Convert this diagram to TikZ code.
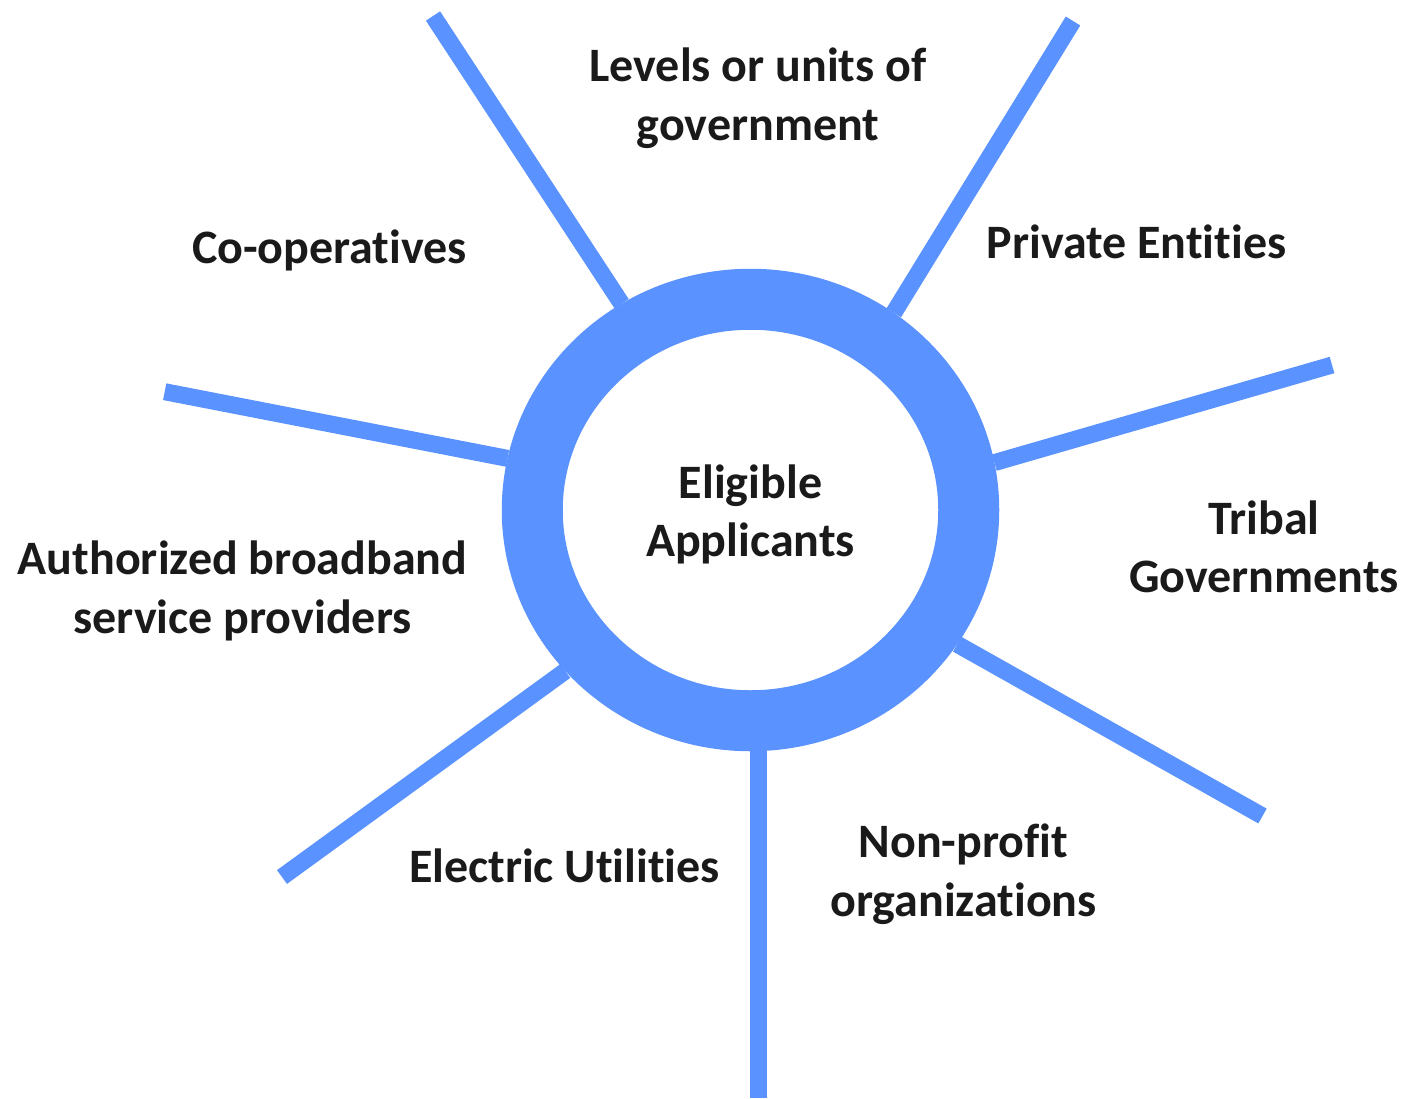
\documentclass[tikz,border=0pt]{standalone}
\usepackage{fontspec}
\setmainfont{Carlito}[Ligatures={NoCommon,NoContextual}]
\usetikzlibrary{shapes.geometric}
\definecolor{rayblue}{HTML}{5A92FF}
\definecolor{labelink}{HTML}{1A1A1A}

\begin{document}
\begin{tikzpicture}[x=0.5pt,y=-0.5pt,
  ray/.style={draw=rayblue,line width=8.5pt},
  lbl/.style={font=\fontsize{24}{29.3}\selectfont\bfseries,
    text=labelink,align=center,inner sep=0pt}]
\useasboundingbox (0,0) rectangle (1407,1098);
%\draw (0,0) rectangle (1407,1098);
\node[ellipse,draw=rayblue,line width=30.5pt,fill=white,
  minimum width=218.25pt,minimum height=210.75pt,
  lbl] (hub) at (750.5,510) {\\[-8pt]Eligible\\Applicants};
\coordinate (e1) at (433,16);
\coordinate (e2) at (1073,21);
\coordinate (e3) at (1332,365);
\coordinate (e4) at (1262.5,816);
\coordinate (e5) at (758,1098);
\coordinate (e6) at (282,877);
\coordinate (e7) at (164.7,391.7);
\draw[ray] (hub.122.7) -- (e1);
\draw[ray] (hub.54.35) -- (e2);
\draw[ray] (hub.11.3) -- (e3);
\draw[ray] (hub.-33.2) -- (e4);
\draw[ray] (hub.south -| e5) -- (e5);
\draw[ray] (hub.221.5) -- (e6);
\draw[ray] (hub.168.7) -- (e7);
\node[lbl] (gov) at (758,98) {Levels or units of\\government};
\node[lbl] (coop) at (329.5,250) {Co-operatives};
\node[lbl] (private) at (1136.5,242) {Private Entities};
\node[lbl] (tribal) at (1264,547) {Tribal\\Governments};
\node[lbl] (isp) at (242.5,591) {Authorized broadband\\service providers};
\node[lbl] (electric) at (564.5,866) {Electric Utilities};
\node[lbl] (nonprofit) at (963.5,874) {Non-profit\\organizations};
\end{tikzpicture}
\end{document}
